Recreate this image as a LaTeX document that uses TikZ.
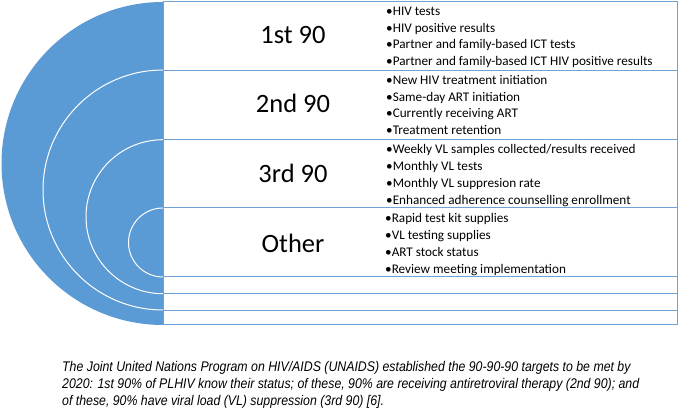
\documentclass[tikz,border=0pt]{standalone}
\usepackage{fontspec}
\setmainfont{Carlito}
\newfontfamily\capfont[FakeStretch=0.88]{Liberation Sans}
\definecolor{blu}{HTML}{5B9BD5}
\definecolor{boxline}{HTML}{6FA3D8}
\begin{document}
\begin{tikzpicture}[x=1pt,y=-1pt,
  rowbox/.style={draw=boxline,line width=1pt},
  ring/.style={draw=white,fill=blu,line width=1pt},
  lbl/.style={font=\fontsize{26.5}{30}\selectfont,inner sep=0pt},
  item/.style={font=\fontsize{13.2}{15}\selectfont,anchor=base west,inner sep=0pt},
  captext/.style={font=\capfont\itshape\fontsize{14}{16}\selectfont,anchor=base west,inner sep=0pt}]
\useasboundingbox[fill=white] (0,0) rectangle (685,411);
% half-disk with rings
\begin{scope}
\clip (0,0) rectangle (163,411);
\fill[blu] (163,163.5) circle[radius=161.5pt];
\draw[ring] (163,190) circle[radius=120pt];
\draw[ring] (163,216.7) circle[radius=77pt];
\draw[ring] (163,242.5) circle[radius=34.5pt];
\end{scope}
% boxes
\draw[rowbox] (163,2) rectangle (677,70.5);
\draw[rowbox] (163,70.5) rectangle (677,139.5);
\draw[rowbox] (163,139.5) rectangle (677,208);
\draw[rowbox] (163,208) rectangle (677,277);
\draw[rowbox] (163,277) rectangle (677,294);
\draw[rowbox] (163,294) rectangle (677,310.5);
\draw[rowbox] (163,310.5) rectangle (677,325);
% labels
\node[lbl] (l1) at (293,35) {1st 90};
\node[lbl] (l2) at (293,103.5) {2nd 90};
\node[lbl] (l3) at (293,173) {3rd 90};
\node[lbl] (l4) at (293,243) {Other};
% items
\node[item] (a1) at (386,15.3) {•HIV tests};
\node[item] (a2) at (386,32.1) {•HIV positive results};
\node[item] (a3) at (386,48.9) {•Partner and family-based ICT tests};
\node[item] (a4) at (386,65.7) {•Partner and family-based ICT HIV positive results};
\node[item] (b1) at (386,84.3) {•New HIV treatment initiation};
\node[item] (b2) at (386,101.1) {•Same-day ART initiation};
\node[item] (b3) at (386,117.9) {•Currently receiving ART};
\node[item] (b4) at (386,134.7) {•Treatment retention};
\node[item] (c1) at (386,154) {•Weekly VL samples collected/results received};
\node[item] (c2) at (386,170.8) {•Monthly VL tests};
\node[item] (c3) at (386,187.6) {•Monthly VL suppresion rate};
\node[item] (c4) at (386,204.4) {•Enhanced adherence counselling enrollment};
\node[item] (d1) at (385,223) {•Rapid test kit supplies};
\node[item] (d2) at (385,239.8) {•VL testing supplies};
\node[item] (d3) at (385,256.6) {•ART stock status};
\node[item] (d4) at (385,273.4) {•Review meeting implementation};
% caption
\node[captext] (t1) at (62,371.5) {The Joint United Nations Program on HIV/AIDS (UNAIDS) established the 90-90-90 targets to be met by};
\node[captext] (t2) at (62,388.5) {2020: 1st 90\% of PLHIV know their status; of these, 90\% are receiving antiretroviral therapy (2nd 90); and};
\node[captext] (t3) at (62,405.5) {of these, 90\% have viral load (VL) suppression (3rd 90) [6].};
\end{tikzpicture}
\end{document}
